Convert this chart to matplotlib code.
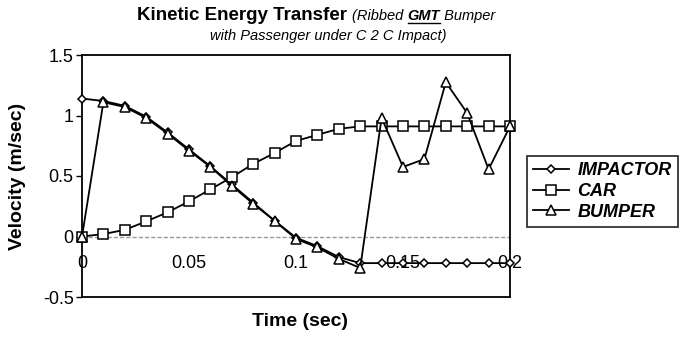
import matplotlib
matplotlib.use("Agg")
import matplotlib.pyplot as plt
from matplotlib.lines import Line2D

plt.rcParams['font.family'] = ['Liberation Sans', 'DejaVu Sans']

# time steps (sec)
time = [0.00, 0.01, 0.02, 0.03, 0.04, 0.05, 0.06, 0.07, 0.08, 0.09, 0.10,
        0.11, 0.12, 0.13, 0.14, 0.15, 0.16, 0.17, 0.18, 0.19, 0.20]

# velocities (m/sec)
impactor = [1.14, 1.12, 1.08, 0.99, 0.86, 0.72, 0.58, 0.43, 0.28, 0.13, -0.01,
            -0.08, -0.17, -0.22, -0.22, -0.22, -0.22, -0.22, -0.22, -0.22, -0.22]
car = [0.00, 0.02, 0.055, 0.125, 0.20, 0.29, 0.39, 0.49, 0.60, 0.69, 0.79,
       0.84, 0.89, 0.91, 0.91, 0.91, 0.91, 0.91, 0.91, 0.91, 0.91]
bumper = [0.00, 1.11, 1.07, 0.98, 0.85, 0.71, 0.575, 0.42, 0.27, 0.13, -0.02,
          -0.09, -0.185, -0.26, 0.98, 0.575, 0.64, 1.275, 1.02, 0.555, 0.91]

xticks = [0, 0.05, 0.1, 0.15, 0.2]
xtick_labels = ["0", "0.05", "0.1", "0.15", "0.2"]
yticks = [-0.5, 0, 0.5, 1, 1.5]
ytick_labels = ["-0.5", "0", "0.5", "1", "1.5"]

W, H = 683, 339
fig = plt.figure(figsize=(W / 100, H / 100), dpi=100)
# plot area in pixels: left 82, right 510, top 55, bottom 297
ax = fig.add_axes([82 / W, 1 - 297 / H, (510 - 82) / W, (297 - 55) / H])

ax.axhline(0, color="#999999", lw=1.0, ls=(0, (3, 1.5)), zorder=1)

common = dict(color="black", lw=1.3, mfc="white", mec="black", mew=1.1, clip_on=False)
ax.plot(time, impactor, marker="D", ms=4.5, label="IMPACTOR", zorder=3, **common)
ax.plot(time, car, marker="s", ms=6.5, label="CAR", zorder=4, **common)
ax.plot(time, bumper, marker="^", ms=7, label="BUMPER", zorder=5, **common)

ax.set_xlim(0, 0.2)
ax.set_ylim(-0.5, 1.5)
ax.set_yticks(yticks)
ax.set_yticklabels(ytick_labels, fontsize=13)
ax.tick_params(axis="y", direction="out", length=4, width=1, pad=2)
ax.set_xticks([])
for s in ax.spines.values():
    s.set_linewidth(1.3)
    s.set_color("black")

# x tick labels sit just under the zero line
for xv, lab in zip(xticks, xtick_labels):
    ax.text(xv, -0.224, lab, ha="center", va="center", fontsize=13, zorder=2, clip_on=False)

fig.text(300 / W, 1 - 322 / H, "Time (sec)", ha="center", va="center",
         fontsize=14, fontweight="bold")
fig.text(18 / W, 1 - 176 / H, "Velocity (m/sec)", ha="center", va="center",
         rotation=90, fontsize=14, fontweight="bold")

# title built from pieces
fig.canvas.draw()
renderer = fig.canvas.get_renderer()
pieces = [("Kinetic Energy Transfer ", dict(fontsize=13.5, fontweight="bold"), False),
          ("(Ribbed ", dict(fontsize=10.5, style="italic"), False),
          ("GMT", dict(fontsize=10.5, style="italic", fontweight="bold"), True),
          (" Bumper", dict(fontsize=10.5, style="italic"), False)]
x0 = 137
for txt, kw, under in pieces:
    t = fig.text(x0 / W, 1 - 20 / H, txt, ha="left", va="baseline", **kw)
    bb = t.get_window_extent(renderer)
    if under:
        fig.add_artist(Line2D([bb.x0 / W, bb.x1 / W], [(H - 22.5) / H] * 2,
                              color="black", lw=1.0))
    x0 += bb.width
fig.text(328 / W, 1 - 40 / H, "with Passenger under C 2 C Impact)", ha="center",
         va="baseline", fontsize=10.5, style="italic")

leg = fig.legend(loc="upper left", bbox_to_anchor=(527 / W, 1 - 156 / H),
                 prop=dict(size=13, weight="bold", style="italic"),
                 frameon=True, fancybox=False, handlelength=2.0, handletextpad=0.45,
                 borderpad=0.35, labelspacing=0.2, borderaxespad=0)
leg.get_frame().set_edgecolor("black")
leg.get_frame().set_linewidth(1.3)

fig.savefig("out.png", dpi=100)
